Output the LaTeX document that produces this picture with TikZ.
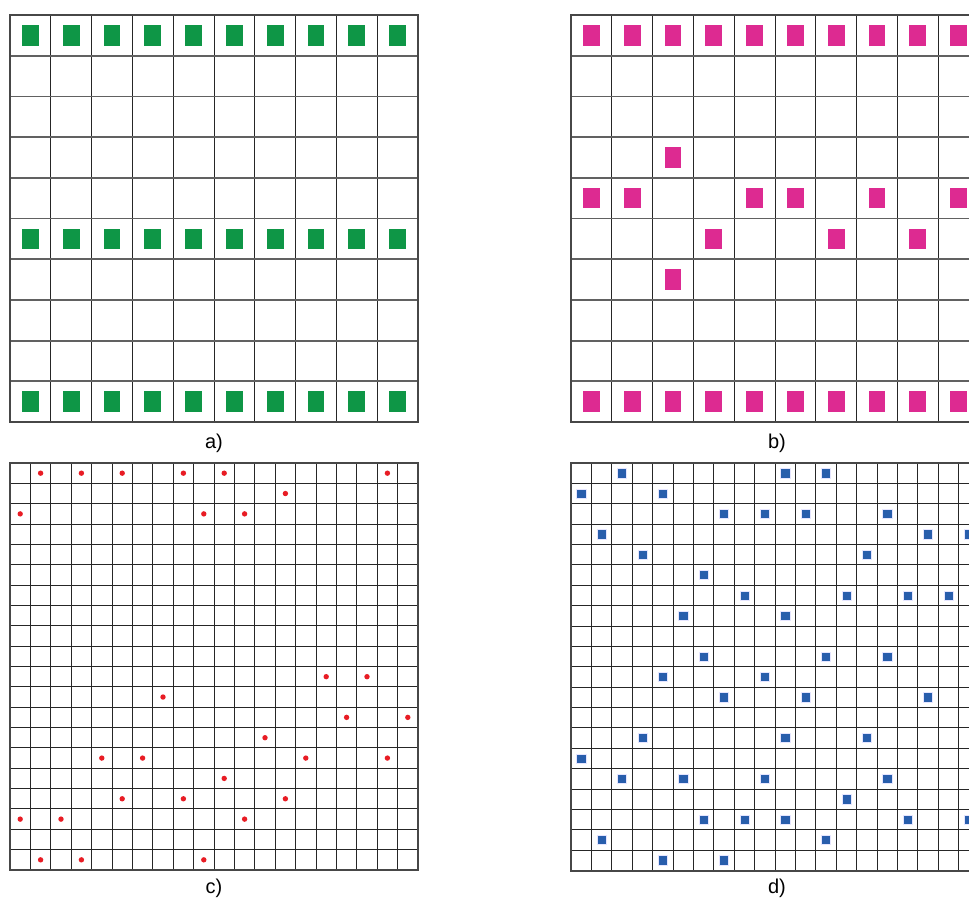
\documentclass[tikz,border=0pt]{standalone}
\usepackage{fontspec}
\setmainfont{Liberation Sans}
\definecolor{sqgreen}{RGB}{14,150,70}
\definecolor{sqpink}{RGB}{221,42,145}
\definecolor{sqblue}{RGB}{40,94,172}
\definecolor{dotred}{RGB}{232,28,36}
\tikzset{
  vline/.style={draw=black!85, line width=1pt},
  hline/.style={draw=black!62, line width=1.8pt},
  fineline/.style={draw=black!85, line width=1pt},
  frame/.style={draw=black!72, line width=2pt},
  greensq/.style={fill=sqgreen},
  pinksq/.style={fill=sqpink},
  bluesq/.style={fill=sqblue, draw=blue!10, line width=0.5pt},
  reddot/.style={fill=dotred},
  lab/.style={font=\fontsize{20}{24}\selectfont, anchor=base, inner sep=0pt}
}
\begin{document}
\begin{tikzpicture}[x=1pt,y=-1pt]
\useasboundingbox (0,0) rectangle (969,897);
\clip (0,0) rectangle (969,897);

% ---------- panel a ----------
\begin{scope}[shift={(10,15)}]
  \foreach \i in {1,...,9} \draw[vline] (\i*40.8,0) -- (\i*40.8,407);
  \foreach \j in {1,...,9} \draw[hline] (0,\j*40.7) -- (408,\j*40.7);
  \draw[frame] (0,0) rectangle (408,407);
  \foreach \j in {0,5,9}
    \foreach \i in {0,...,9}
      \fill[greensq] ({(\i+0.5)*40.8-8.35},{(\j+0.5)*40.7-10.3}) rectangle ++(16.7,20.6);
\end{scope}

% ---------- panel b ----------
\begin{scope}[shift={(571,15)}]
  \foreach \i in {1,...,9} \draw[vline] (\i*40.8,0) -- (\i*40.8,407);
  \foreach \j in {1,...,9} \draw[hline] (0,\j*40.7) -- (408,\j*40.7);
  \draw[frame] (0,0) rectangle (408,407);
  \foreach \j in {0,9}
    \foreach \i in {0,...,9}
      \fill[pinksq] ({(\i+0.5)*40.8-8.35},{(\j+0.5)*40.7-10.3}) rectangle ++(16.7,20.6);
  \foreach \i/\j in {2/3, 0/4, 1/4, 4/4, 5/4, 7/4, 9/4, 3/5, 6/5, 8/5, 2/6}
      \fill[pinksq] ({(\i+0.5)*40.8-8.35},{(\j+0.5)*40.7-10.3}) rectangle ++(16.7,20.6);
\end{scope}

% ---------- panel c ----------
\begin{scope}[shift={(10,463)}]
  \foreach \i in {1,...,19} \draw[fineline] (\i*20.4,0) -- (\i*20.4,407);
  \foreach \j in {1,...,19} \draw[fineline] (0,\j*20.35) -- (408,\j*20.35);
  \draw[frame] (0,0) rectangle (408,407);
  \foreach \i/\j in {1/0, 3/0, 5/0, 8/0, 10/0, 18/0,
                     13/1,
                     0/2, 9/2, 11/2,
                     15/10, 17/10,
                     7/11,
                     16/12, 19/12,
                     12/13,
                     4/14, 6/14, 14/14, 18/14,
                     10/15,
                     5/16, 8/16, 13/16,
                     0/17, 2/17, 11/17,
                     1/19, 3/19, 9/19}
      \fill[reddot] ({(\i+0.5)*20.4},{(\j+0.5)*20.35}) circle (2.7);
\end{scope}

% ---------- panel d ----------
\begin{scope}[shift={(571,463)}]
  \foreach \i in {1,...,19} \draw[fineline] (\i*20.4,0) -- (\i*20.4,407.5);
  \foreach \j in {1,...,19} \draw[fineline] (0,\j*20.375) -- (408,\j*20.375);
  \draw[frame] (0,0) rectangle (408,407.5);
  \foreach \i/\j in {2/0, 10/0, 12/0,
                     0/1, 4/1,
                     7/2, 9/2, 11/2, 15/2,
                     1/3, 17/3, 19/3,
                     3/4, 14/4,
                     6/5,
                     8/6, 13/6, 16/6, 18/6,
                     5/7, 10/7,
                     6/9, 12/9, 15/9,
                     4/10, 9/10,
                     7/11, 11/11, 17/11,
                     3/13, 10/13, 14/13,
                     0/14,
                     2/15, 5/15, 9/15, 15/15,
                     13/16,
                     6/17, 8/17, 10/17, 16/17, 19/17,
                     1/18, 12/18,
                     4/19, 7/19}
      \filldraw[bluesq] ({(\i+0.5)*20.4-4.6},{(\j+0.5)*20.375-4.6}) rectangle ++(9.2,9.2);
\end{scope}

% ---------- labels ----------
\node[lab] (la) at (214,448) {a)};
\node[lab] (lb) at (777,448) {b)};
\node[lab] (lc) at (214,893) {c)};
\node[lab] (ld) at (777,893) {d)};
\end{tikzpicture}
\end{document}
